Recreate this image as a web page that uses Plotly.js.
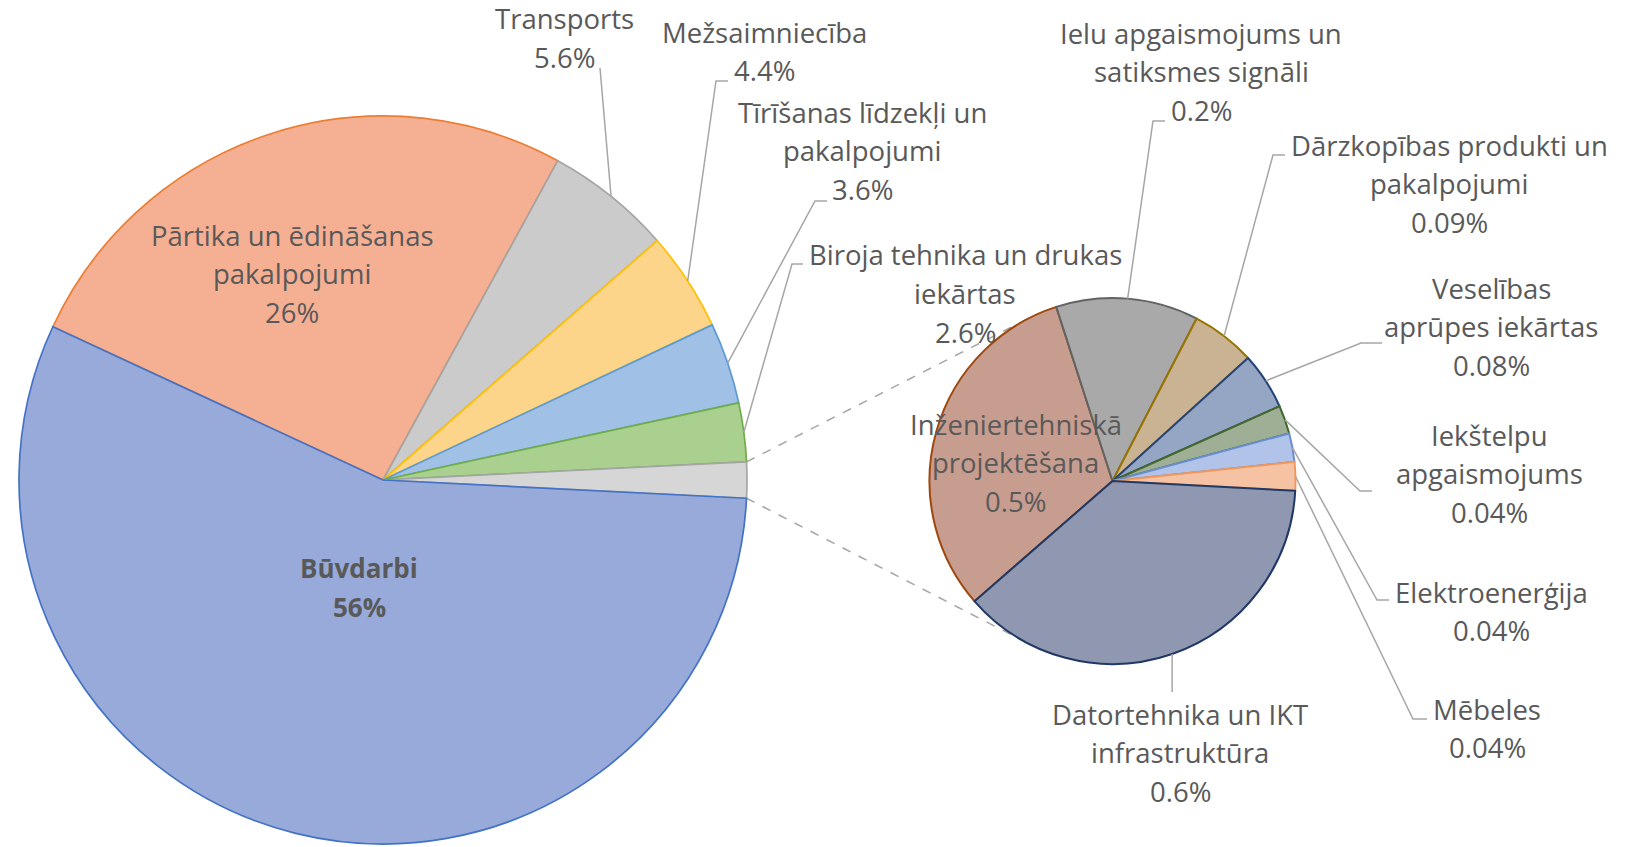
<!DOCTYPE html>
<html>
<head>
<meta charset="utf-8">
<script src="https://cdn.plot.ly/plotly-3.0.1.min.js"></script>
<style>
html,body{margin:0;padding:0;background:#ffffff;}
#chart{width:1629px;height:847px;}
</style>
</head>
<body>
<div id="chart"></div>
<script>
// ---------------- DATA ----------------
const mainCategories = ['Pārtika un ēdināšanas pakalpojumi', 'Transports', 'Mežsaimniecība',
  'Tīrīšanas līdzekļi un pakalpojumi', 'Biroja tehnika un drukas iekārtas', 'Būvdarbi'];
const mainShares = [26, 5.6, 4.4, 3.6, 2.6, 56];
const mainPctLabels = ['26%', '5.6%', '4.4%', '3.6%', '2.6%', '56%'];
const mainLabelLines = [['Pārtika un ēdināšanas', 'pakalpojumi'], ['Transports'], ['Mežsaimniecība'],
  ['Tīrīšanas līdzekļi un', 'pakalpojumi'], ['Biroja tehnika un drukas', 'iekārtas'], ['Būvdarbi']];

const subCategories = ['Inženiertehniskā projektēšana', 'Ielu apgaismojums un satiksmes signāli',
  'Dārzkopības produkti un pakalpojumi', 'Veselības aprūpes iekārtas', 'Iekštelpu apgaismojums',
  'Elektroenerģija', 'Mēbeles', 'Datortehnika un IKT infrastruktūra'];
const subShares = [0.5, 0.2, 0.09, 0.08, 0.04, 0.04, 0.04, 0.6];
const subPctLabels = ['0.5%', '0.2%', '0.09%', '0.08%', '0.04%', '0.04%', '0.04%', '0.6%'];
const subLabelLines = [['Inženiertehniskā', 'projektēšana'], ['Ielu apgaismojums un', 'satiksmes signāli'],
  ['Dārzkopības produkti un', 'pakalpojumi'], ['Veselības', 'aprūpes iekārtas'], ['Iekštelpu', 'apgaismojums'],
  ['Elektroenerģija'], ['Mēbeles'], ['Datortehnika un IKT', 'infrastruktūra']];

// ---------------- STYLE / LAYOUT ----------------
const W = 1629, H = 847;
const OTHER_AT = 5; // position of the "other" slice in the main pie
const mainGeom = {cx: 383, cy: 480, r: 364, rotation: -65.1};
const subGeom = {cx: 1112.5, cy: 481, r: 183, rotation: -131.1};

const mainFill = ['#F5B093', '#CBCBCB', '#FDD58A', '#A1C0E5', '#A9D08E', '#D6D6D6', '#98AAD9'];
const mainLine = ['#ED7D31', '#A5A5A5', '#FFC000', '#5B9BD5', '#70AD47', '#A5A5A5', '#4472C4'];
const subFill = ['#C79D90', '#A9A9A9', '#C9B392', '#94A6C4', '#9FAF96', '#B1C3E9', '#F6C2A4', '#9097B0'];
const subLine = ['#9E480E', '#636363', '#997300', '#264478', '#43682B', '#698ED0', '#F1975A', '#203864'];

const FONT = '"Open Sans", Lato, sans-serif';
const FSIZE = 27.5;
const FSIZE_BOLD = 26;
const TCOLOR = '#595959';
const LINE_GAP = 38.7;
const LEADER = '#A6A6A6';

// label placement (pixels) for each slice of each pie; index refers to data order
const mainLabelPos = {
  0: {x: 292, y: 235},
  1: {x: 564, y: 19, lead: [[600, 68]]},
  2: {x: 764, y: 32, lead: [[728, 81], [716, 81]]},
  3: {x: 862, y: 112, lead: [[827, 201], [815, 201]]},
  4: {x: 965, y: 255, lead: [[803, 264], [792, 264]]},
  5: {x: 359, y: 568, bold: true}
};
const subLabelPos = {
  0: {x: 1016, y: 424},
  1: {x: 1201, y: 33, lead: [[1165, 121], [1153, 121]]},
  2: {x: 1449, y: 145, lead: [[1285, 155], [1273, 155]]},
  3: {x: 1491, y: 288, lead: [[1382, 343], [1361, 343]]},
  4: {x: 1489, y: 435, lead: [[1372, 491], [1360, 491]]},
  5: {x: 1491, y: 592, lead: [[1389, 600], [1377, 600]]},
  6: {x: 1487, y: 709, lead: [[1427, 719], [1413, 719]]},
  7: {x: 1180, y: 714, lead: [[null, 692]]}
};

// ---------------- BUILD ----------------
const sum = a => a.reduce((s, v) => s + v, 0);
const otherValue = sum(subShares);
const mainValues = mainShares.slice(0, OTHER_AT).concat([otherValue], mainShares.slice(OTHER_AT));
const mainLabelsAll = mainCategories.slice(0, OTHER_AT).concat(['Citi'], mainCategories.slice(OTHER_AT));

const toPX = x => x / W, toPY = y => 1 - y / H;
function domainOf(g) {
  return {x: [(g.cx - g.r) / W, (g.cx + g.r) / W], y: [1 - (g.cy + g.r) / H, 1 - (g.cy - g.r) / H]};
}
function sliceAngles(values, rotation) {
  const tot = sum(values);
  let a = rotation;
  return values.map(v => { const s = a; a += v / tot * 360; return {start: s, end: a, mid: (s + a) / 2}; });
}
function edgePoint(g, deg) {
  const t = deg * Math.PI / 180;
  return [g.cx + g.r * Math.sin(t), g.cy - g.r * Math.cos(t)];
}

const traces = [
  {
    type: 'pie', sort: false, direction: 'clockwise', rotation: mainGeom.rotation,
    labels: mainLabelsAll, values: mainValues, textinfo: 'none', hoverinfo: 'label+percent',
    marker: {colors: mainFill, line: {color: mainLine, width: 1.7}},
    domain: domainOf(mainGeom), showlegend: false
  },
  {
    type: 'pie', sort: false, direction: 'clockwise', rotation: subGeom.rotation,
    labels: subCategories, values: subShares, textinfo: 'none', hoverinfo: 'label+value',
    marker: {colors: subFill, line: {color: subLine, width: 2}},
    domain: domainOf(subGeom), showlegend: false
  }
];

const annotations = [];
const shapes = [];

function addLabels(lines, pct, pos, angles, g) {
  Object.keys(pos).forEach(k => {
    const p = pos[k];
    const allLines = lines[k].concat([pct[k]]);
    allLines.forEach((t, i) => {
      annotations.push({
        xref: 'paper', yref: 'paper', x: toPX(p.x), y: toPY(p.y + i * LINE_GAP),
        xanchor: 'center', yanchor: 'middle', showarrow: false,
        text: p.bold ? '<b>' + t + '</b>' : t,
        font: {family: FONT, size: p.bold ? FSIZE_BOLD : FSIZE, color: TCOLOR}
      });
    });
    if (p.lead) {
      const e = edgePoint(g, angles[k].mid);
      const pts = p.lead.map(q => [q[0] === null ? e[0] : q[0], q[1]]);
      pts.push(e);
      let d = 'M ' + toPX(pts[0][0]) + ' ' + toPY(pts[0][1]);
      for (let i = 1; i < pts.length; i++) d += ' L ' + toPX(pts[i][0]) + ' ' + toPY(pts[i][1]);
      shapes.push({type: 'path', xref: 'paper', yref: 'paper', path: d,
        line: {color: LEADER, width: 1.5}});
    }
  });
}

const mainAngles = sliceAngles(mainValues, mainGeom.rotation);
const subAngles = sliceAngles(subShares, subGeom.rotation);

const mainAnglesByCat = mainAngles.filter((_, i) => i !== OTHER_AT);
addLabels(mainLabelLines, mainPctLabels, mainLabelPos, mainAnglesByCat, mainGeom);
addLabels(subLabelLines, subPctLabels, subLabelPos, subAngles, subGeom);

// dashed connectors from the "other" slice to the secondary pie (tangent points)
function tangentPoint(from, g, upper) {
  const dx = g.cx - from[0], dy = g.cy - from[1];
  const d = Math.hypot(dx, dy);
  const base = Math.atan2(-dy, -dx);
  const off = Math.acos(g.r / d);
  const a = upper ? base + off : base - off;
  return [g.cx + g.r * Math.cos(a), g.cy + g.r * Math.sin(a)];
}
const oa = mainAngles[OTHER_AT];
const pTop = edgePoint(mainGeom, oa.start), pBot = edgePoint(mainGeom, oa.end);
const tTop = tangentPoint(pTop, subGeom, true), tBot = tangentPoint(pBot, subGeom, false);
[[pTop, tTop], [pBot, tBot]].forEach(([a, b]) => {
  shapes.push({type: 'line', xref: 'paper', yref: 'paper', layer: 'below',
    x0: toPX(a[0]), y0: toPY(a[1]), x1: toPX(b[0]), y1: toPY(b[1]),
    line: {color: '#A6A6A6', width: 1.5, dash: 'dash'}});
});

const layout = {
  width: W, height: H, margin: {l: 0, r: 0, t: 0, b: 0},
  paper_bgcolor: '#ffffff', plot_bgcolor: '#ffffff',
  showlegend: false, annotations: annotations, shapes: shapes
};

Plotly.newPlot('chart', traces, layout, {displayModeBar: false, staticPlot: true});
</script>
</body>
</html>
